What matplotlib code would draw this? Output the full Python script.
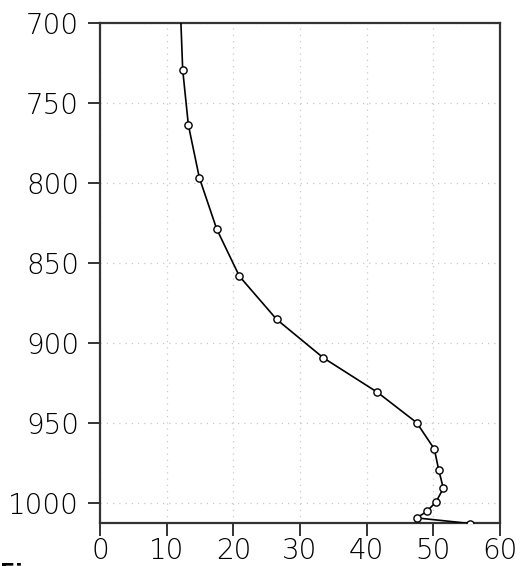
import matplotlib
matplotlib.use("Agg")
import matplotlib.pyplot as plt

# Vertical profile: value vs pressure (hPa)
pressure = [696, 729, 763.5, 796.5, 828.5, 858, 885, 909, 930.5, 949.5,
            966, 979, 990.5, 999, 1005, 1009, 1012.5]
value = [12.1, 12.4, 13.25, 14.9, 17.5, 20.9, 26.5, 33.5, 41.6, 47.5,
         50.15, 50.8, 51.5, 50.4, 49.0, 47.5, 55.5]

x_ticks = [0, 10, 20, 30, 40, 50, 60]
y_ticks = [700, 750, 800, 850, 900, 950, 1000]

fig = plt.figure(figsize=(5.27, 5.66), dpi=100)
ax = fig.add_axes([0.1898, 0.0765, 0.759, 0.8823])

ax.plot(value, pressure, color="black", linewidth=1.2,
        marker="o", markersize=5.2, markerfacecolor="white",
        markeredgecolor="black", markeredgewidth=1.0, zorder=3)

ax.set_xlim(0, 60)
ax.set_ylim(1012, 700)
ax.set_xticks(x_ticks)
ax.set_yticks(y_ticks)
ax.set_xticklabels([str(t) for t in x_ticks])
ax.set_yticklabels([str(t) for t in y_ticks])

ax.grid(True, color="#c8c8c8", linestyle=(0, (1, 4)), linewidth=0.9)
ax.set_axisbelow(True)

for s in ax.spines.values():
    s.set_color("#333333")
    s.set_linewidth(1.6)

ax.tick_params(axis="both", direction="out", length=9, width=1.4,
               color="#333333", labelsize=20, labelcolor="black")
ax.tick_params(axis="x", pad=1)
ax.tick_params(axis="y", pad=6)
for lab in ax.get_xticklabels() + ax.get_yticklabels():
    lab.set_fontweight("light")

# caption fragment at the lower-left edge of the canvas
fig.text(0.0, -0.0295, "Fig", fontsize=16, fontweight="bold",
         ha="left", va="bottom", color="black")

fig.savefig("out.png", dpi=100)
